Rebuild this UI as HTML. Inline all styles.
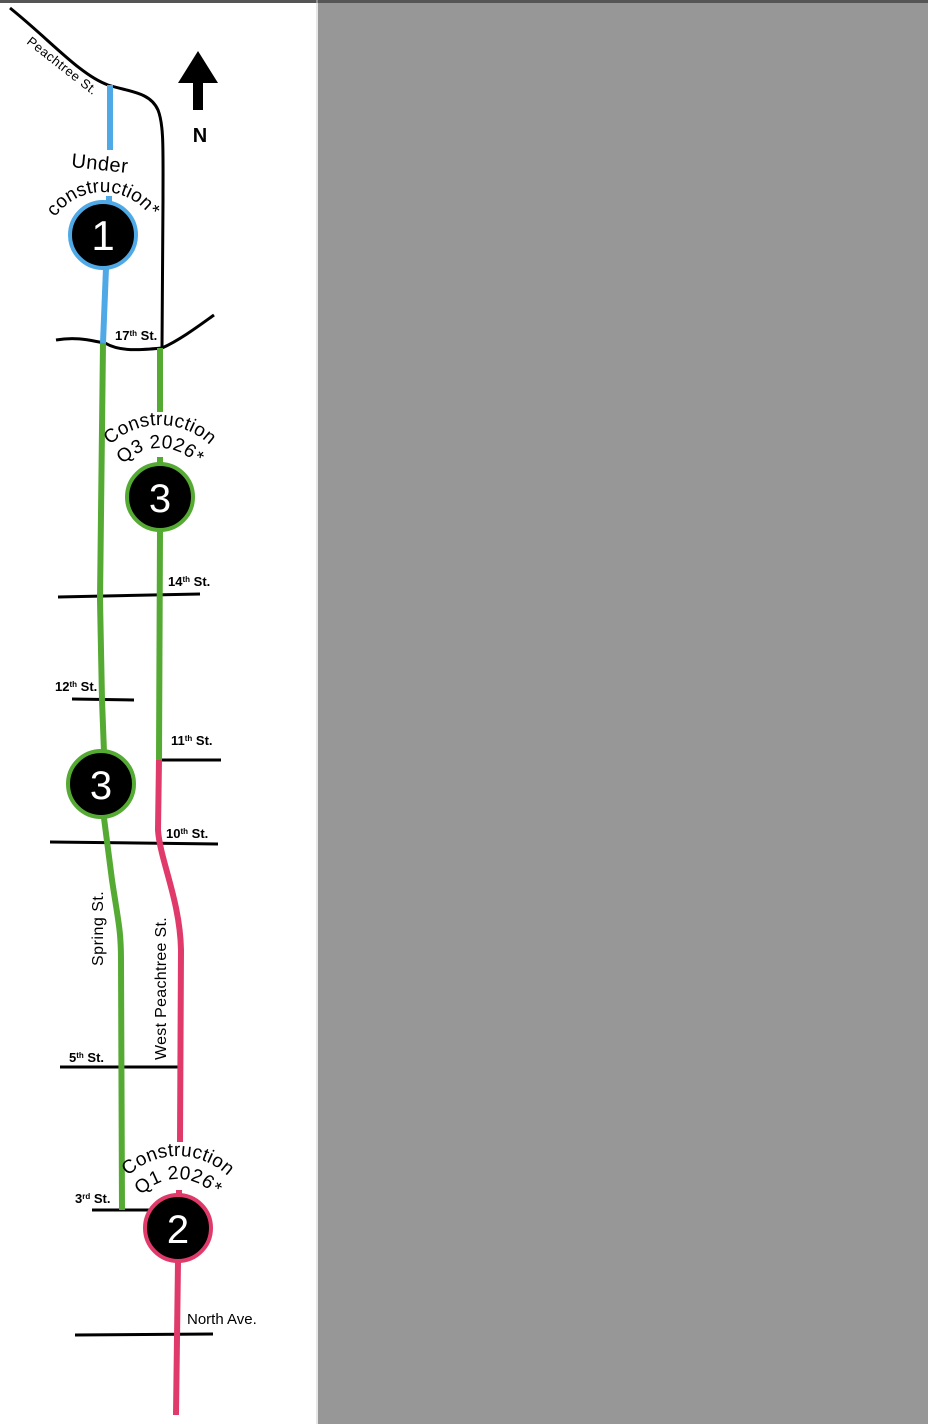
<!DOCTYPE html>
<html><head><meta charset="utf-8"><style>
html,body{margin:0;padding:0;background:#fff;}
svg{display:block;}
text{font-family:"Liberation Sans",sans-serif;fill:#000;}
</style></head><body>
<svg width="928" height="1424" viewBox="0 0 928 1424" xmlns="http://www.w3.org/2000/svg">
<rect x="0" y="0" width="928" height="1424" fill="#fff"/>
<rect x="318" y="0" width="610" height="1424" fill="#979797"/>
<rect x="0" y="0" width="928" height="3" fill="#555"/>
<line x1="317" y1="0" x2="317" y2="1424" stroke="#ccc" stroke-width="1"/>

<path d="M10,8 C50,40 80,75 108,85 C130,92 150,92 158,110 C164,125 163,150 163,200 L162,348" fill="none" stroke="#000" stroke-width="3"/>
<text transform="translate(26,43) rotate(38)" font-size="13" letter-spacing="0.5">Peachtree St.</text>
<path d="M56,340 C80,336 95,342 105,343 C120,352 140,350 162,348 C180,340 200,325 214,315" fill="none" stroke="#000" stroke-width="3"/>
<text x="115" y="340" font-size="13" font-weight="bold">17<tspan font-size="8" dy="-4">th</tspan><tspan dy="4"> St.</tspan></text>

<polygon points="198,51 218,83 203,83 203,110 193,110 193,83 178,83" fill="#000"/>
<text x="200" y="142" font-size="20" text-anchor="middle" font-weight="bold">N</text>

<line x1="110" y1="85" x2="110" y2="150" stroke="#4fa9e6" stroke-width="6"/>
<line x1="109" y1="196" x2="109" y2="202" stroke="#4fa9e6" stroke-width="6"/>
<path d="M106,268 L103,343" stroke="#4fa9e6" stroke-width="6" fill="none"/>

<line x1="58" y1="597" x2="200" y2="594" stroke="#000" stroke-width="3"/>
<line x1="72" y1="699" x2="134" y2="700" stroke="#000" stroke-width="3"/>
<line x1="157" y1="760" x2="221" y2="760" stroke="#000" stroke-width="3"/>
<line x1="50" y1="842" x2="218" y2="844" stroke="#000" stroke-width="3"/>
<line x1="60" y1="1067" x2="178" y2="1067" stroke="#000" stroke-width="3"/>
<line x1="92" y1="1210" x2="150" y2="1210" stroke="#000" stroke-width="3"/>
<line x1="75" y1="1335" x2="213" y2="1334" stroke="#000" stroke-width="3"/>

<path d="M103,343 L100,600 L102,700 L104,752 M104,818 L112,880 C118,920 121,930 121,960 L122,1210" fill="none" stroke="#55aa33" stroke-width="6"/>
<line x1="160" y1="348" x2="160" y2="412" stroke="#55aa33" stroke-width="6"/>
<line x1="160" y1="457" x2="160" y2="463" stroke="#55aa33" stroke-width="6"/>
<line x1="160" y1="530" x2="159" y2="760" stroke="#55aa33" stroke-width="6"/>
<path d="M159,760 L158,830 C160,860 180,900 181,950 L180,1142" fill="none" stroke="#e03a6a" stroke-width="6"/>
<line x1="179" y1="1190" x2="179" y2="1196" stroke="#e03a6a" stroke-width="6"/>
<path d="M178,1262 L176,1415" fill="none" stroke="#e03a6a" stroke-width="6"/>

<text x="168" y="586" font-size="13" font-weight="bold">14<tspan font-size="8" dy="-4">th</tspan><tspan dy="4"> St.</tspan></text>
<text x="55" y="691" font-size="13" font-weight="bold">12<tspan font-size="8" dy="-4">th</tspan><tspan dy="4"> St.</tspan></text>
<text x="171" y="745" font-size="13" font-weight="bold">11<tspan font-size="8" dy="-4">th</tspan><tspan dy="4"> St.</tspan></text>
<text x="166" y="838" font-size="13" font-weight="bold">10<tspan font-size="8" dy="-4">th</tspan><tspan dy="4"> St.</tspan></text>
<text x="69" y="1062" font-size="13" font-weight="bold">5<tspan font-size="8" dy="-4">th</tspan><tspan dy="4"> St.</tspan></text>
<text x="75" y="1203" font-size="13" font-weight="bold">3<tspan font-size="8" dy="-4">rd</tspan><tspan dy="4"> St.</tspan></text>
<text x="187" y="1324" font-size="15">North Ave.</text>
<text transform="translate(103,966) rotate(-90)" font-size="16" letter-spacing="0.5">Spring St.</text>
<text transform="translate(166,1060) rotate(-90)" font-size="16" letter-spacing="0.3">West Peachtree St.</text>

<defs>
<path id="a1" d="M45,250 A58,58 0 0 1 161,250"/>
<path id="a2" d="M88,497 A72,72 0 0 1 232,497"/>
<path id="a3" d="M111,497 A49,49 0 0 1 209,497"/>
<path id="a4" d="M106,1228 A72,72 0 0 1 250,1228"/>
<path id="a5" d="M129,1228 A49,49 0 0 1 227,1228"/>
</defs>
<text transform="rotate(6 100 163)" x="100" y="170" font-size="20" text-anchor="middle" letter-spacing="0.5">Under</text>
<text font-size="19" letter-spacing="0.2"><textPath href="#a1" startOffset="50%" text-anchor="middle">construction*</textPath></text>
<text font-size="19" letter-spacing="0.3"><textPath href="#a2" startOffset="50%" text-anchor="middle">Construction</textPath></text>
<text font-size="19" letter-spacing="0.3"><textPath href="#a3" startOffset="50%" text-anchor="middle">Q3 2026*</textPath></text>
<text font-size="19" letter-spacing="0.3"><textPath href="#a4" startOffset="50%" text-anchor="middle">Construction</textPath></text>
<text font-size="19" letter-spacing="0.3"><textPath href="#a5" startOffset="50%" text-anchor="middle">Q1 2026*</textPath></text>

<circle cx="103" cy="235" r="33" fill="#000" stroke="#4fa9e6" stroke-width="4"/>
<text x="103" y="250" font-size="42" text-anchor="middle" style="fill:#fff">1</text>
<circle cx="160" cy="497" r="33" fill="#000" stroke="#55aa33" stroke-width="4"/>
<text x="160" y="512" font-size="40" text-anchor="middle" style="fill:#fff">3</text>
<circle cx="101" cy="784" r="33" fill="#000" stroke="#55aa33" stroke-width="4"/>
<text x="101" y="799" font-size="40" text-anchor="middle" style="fill:#fff">3</text>
<circle cx="178" cy="1228" r="33" fill="#000" stroke="#e03a6a" stroke-width="4"/>
<text x="178" y="1243" font-size="40" text-anchor="middle" style="fill:#fff">2</text>
</svg>
</body></html>
